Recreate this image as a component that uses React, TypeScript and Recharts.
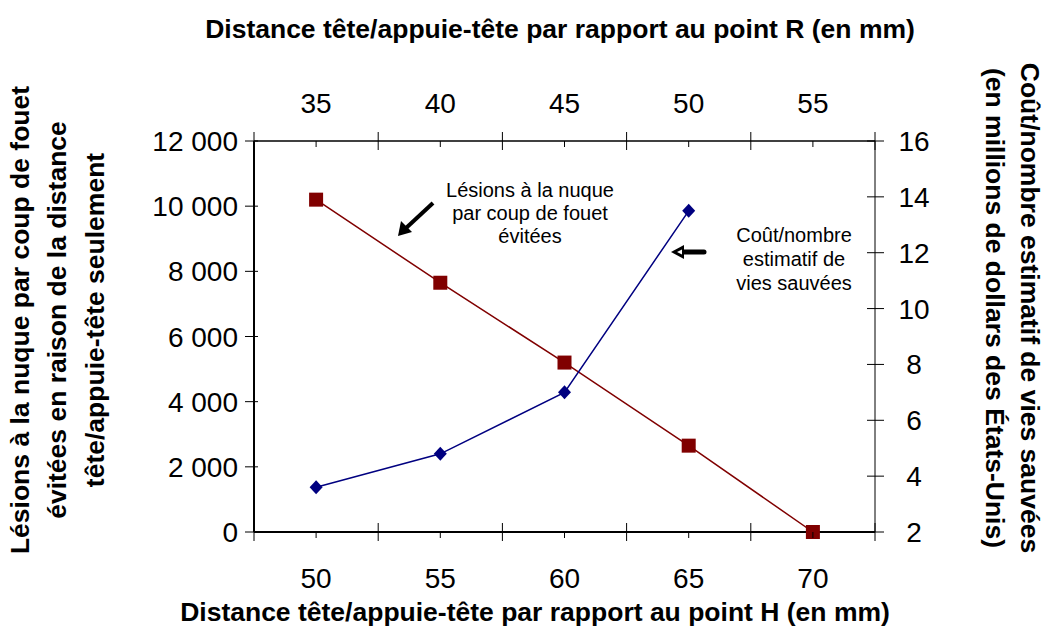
import React from "react";
import { ComposedChart, Customized, Line, XAxis, YAxis } from "recharts";

// distance values (mm) shown on the two horizontal axes
const hDistances = [50, 55, 60, 65, 70];
const rDistances = [35, 40, 45, 50, 55];
// tick marks that sit between the categories
const hBoundaries = [47.5, 52.5, 57.5, 62.5, 67.5, 72.5];
const rBoundaries = [32.5, 37.5, 42.5, 47.5, 52.5, 57.5];

const lesionsAvoided = [10200, 7650, 5200, 2650, 0];
const costPerLife: (number | null)[] = [3.6, 4.8, 7.0, 13.5, null];

const leftTicks = [0, 2000, 4000, 6000, 8000, 10000, 12000];
const rightTicks = [2, 4, 6, 8, 10, 12, 14, 16];

const rows = hDistances.map((h, i) => ({
  h,
  r: rDistances[i],
  lesions: lesionsAvoided[i],
  cost: costPerLife[i],
}));

const FONT = "'Liberation Sans', Arial, Helvetica, sans-serif";
const RED = "#800000";
const BLUE = "#000080";

const spaced = (v: number) => String(v).replace(/\B(?=(\d{3})+(?!\d))/g, " ");

function BottomTick({ x, y, payload }: any) {
  const isLabel = hDistances.includes(payload.value);
  return (
    <g>
      {isLabel ? (
        <line x1={x} x2={x} y1={y} y2={y + 6} stroke="#000" />
      ) : (
        <line x1={x} x2={x} y1={y - 9} y2={y + 9} stroke="#000" />
      )}
      {isLabel && (
        <text x={x} y={y + 56} textAnchor="middle" fontSize={28} fontFamily={FONT} fill="#000">
          {payload.value}
        </text>
      )}
    </g>
  );
}

function TopTick({ x, y, payload }: any) {
  const isLabel = rDistances.includes(payload.value);
  return (
    <g>
      {isLabel ? (
        <line x1={x} x2={x} y1={y} y2={y + 6} stroke="#000" />
      ) : (
        <line x1={x} x2={x} y1={y - 9} y2={y + 9} stroke="#000" />
      )}
      {isLabel && (
        <text x={x} y={y - 28} textAnchor="middle" fontSize={28} fontFamily={FONT} fill="#000">
          {payload.value}
        </text>
      )}
    </g>
  );
}

function LeftTick({ x, y, payload }: any) {
  return (
    <g>
      <line x1={x - 9} x2={x + 4} y1={y} y2={y} stroke="#000" />
      <text x={x - 16} y={y + 10} textAnchor="end" fontSize={28} fontFamily={FONT} fill="#000">
        {spaced(payload.value)}
      </text>
    </g>
  );
}

function RightTick({ x, y, payload }: any) {
  return (
    <g>
      <line x1={x - 8} x2={x + 9} y1={y} y2={y} stroke="#000" />
      <text x={x + 39} y={y + 10} textAnchor="middle" fontSize={28} fontFamily={FONT} fill="#000">
        {payload.value}
      </text>
    </g>
  );
}

const SquareDot = (props: any) => {
  const { cx, cy, index } = props;
  if (cx == null || cy == null) return <g key={`s${index}`} />;
  return <rect key={`s${index}`} x={cx - 7} y={cy - 7} width={14} height={14} fill={RED} />;
};

const DiamondDot = (props: any) => {
  const { cx, cy, index, value } = props;
  if (cx == null || cy == null || value == null) return <g key={`d${index}`} />;
  return (
    <polygon
      key={`d${index}`}
      points={`${cx},${cy - 7} ${cx + 6.5},${cy} ${cx},${cy + 7} ${cx - 6.5},${cy}`}
      fill={BLUE}
    />
  );
};

function Annotations() {
  const note = { fontSize: 20, fontFamily: FONT, fill: "#000", textAnchor: "middle" as const };
  const title = { fontSize: 26.5, fontFamily: FONT, fontWeight: 700, fill: "#000", textAnchor: "middle" as const };
  return (
    <g>
      <text x={560} y={38} {...title}>Distance tête/appuie-tête par rapport au point R (en mm)</text>
      <text x={535} y={621} {...title}>Distance tête/appuie-tête par rapport au point H (en mm)</text>

      <text transform="translate(29,320) rotate(-90)" {...title}>Lésions à la nuque par coup de fouet</text>
      <text transform="translate(66,320) rotate(-90)" {...title}>évitées en raison de la distance</text>
      <text transform="translate(104,320) rotate(-90)" {...title}>tête/appuie-tête seulement</text>

      <text transform="translate(1021,308) rotate(90)" {...title}>Coût/nombre estimatif de vies sauvées</text>
      <text transform="translate(986,308) rotate(90)" {...title}>(en millions de dollars des États-Unis)</text>

      <text x={530} y={197} {...note}>Lésions à la nuque</text>
      <text x={530} y={220} {...note}>par coup de fouet</text>
      <text x={530} y={243} {...note}>évitées</text>

      <text x={794} y={242} {...note}>Coût/nombre</text>
      <text x={794} y={266} {...note}>estimatif de</text>
      <text x={794} y={290} {...note}>vies sauvées</text>

      <line x1={433} y1={203} x2={405} y2={229} stroke="#000" strokeWidth={4} />
      <polygon points="398,236 401,221 412,232" fill="#000" />

      <line x1={704} y1={252} x2={682} y2={252} stroke="#000" strokeWidth={5} strokeLinecap="round" />
      <polygon points="671,252 684,245 684,259" fill="#000" />
      <polygon points="677,252 682,249.5 682,254.5" fill="#fff" />
    </g>
  );
}

export default function App() {
  return (
    <div style={{ position: "absolute", left: 0, top: 0, background: "#fff" }}>
      <ComposedChart
        width={1048}
        height={634}
        data={rows}
        margin={{ top: 101, right: 73, bottom: 62, left: 154 }}
      >
        <XAxis
          xAxisId="h"
          dataKey="h"
          type="number"
          orientation="bottom"
          domain={[47.5, 72.5]}
          ticks={[...hBoundaries, ...hDistances].sort((a, b) => a - b)}
          interval={0}
          height={40}
          tickSize={0}
          tickMargin={0}
          tickLine={false}
          axisLine={{ stroke: "#000", strokeWidth: 2 }}
          tick={<BottomTick />}
          allowDataOverflow
        />
        <XAxis
          xAxisId="r"
          dataKey="r"
          type="number"
          orientation="top"
          domain={[32.5, 57.5]}
          ticks={[...rBoundaries, ...rDistances].sort((a, b) => a - b)}
          interval={0}
          height={40}
          tickSize={0}
          tickMargin={0}
          tickLine={false}
          axisLine={{ stroke: "#000", strokeWidth: 1.5 }}
          tick={<TopTick />}
          allowDataOverflow
        />
        <YAxis
          yAxisId="left"
          orientation="left"
          domain={[0, 12000]}
          ticks={leftTicks}
          interval={0}
          width={100}
          tickSize={0}
          tickMargin={0}
          tickLine={false}
          axisLine={{ stroke: "#000", strokeWidth: 2 }}
          tick={<LeftTick />}
        />
        <YAxis
          yAxisId="right"
          orientation="right"
          domain={[2, 16]}
          ticks={rightTicks}
          interval={0}
          width={100}
          tickSize={0}
          tickMargin={0}
          tickLine={false}
          axisLine={{ stroke: "#000", strokeWidth: 1 }}
          tick={<RightTick />}
        />
        <Line
          xAxisId="h"
          yAxisId="left"
          dataKey="lesions"
          stroke={RED}
          strokeWidth={1.5}
          dot={SquareDot}
          activeDot={false}
          isAnimationActive={false}
        />
        <Line
          xAxisId="r"
          yAxisId="right"
          dataKey="cost"
          stroke={BLUE}
          strokeWidth={1.5}
          dot={DiamondDot}
          activeDot={false}
          isAnimationActive={false}
        />
        <Customized component={Annotations} />
      </ComposedChart>
    </div>
  );
}
